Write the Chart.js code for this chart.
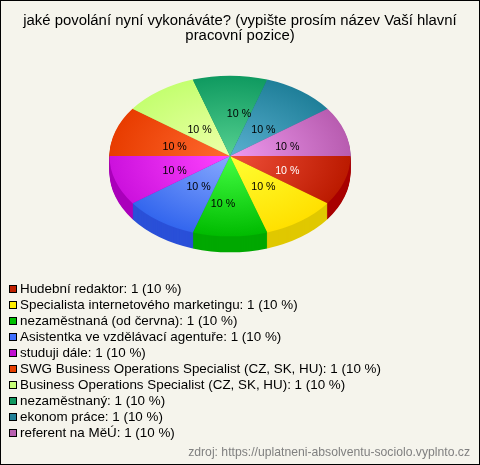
<!DOCTYPE html>
<html>
<head>
<meta charset="utf-8">
<title>povolání</title>
<script src="https://cdn.jsdelivr.net/npm/chart.js@4"></script>
<style>
  html, body { margin: 0; padding: 0; background: #f5f4ec; }
  canvas { display: block; }
</style>
</head>
<body>
<canvas id="pie" width="480" height="465"></canvas>
<script>
const titleLines = ['jaké povolání nyní vykonáváte? (vypište prosím název Vaší hlavní', 'pracovní pozice)'];
const sourceText = 'zdroj: https://uplatneni-absolventu-sociolo.vyplnto.cz';
const categories = [
  'Hudební redaktor', 'Specialista internetového marketingu', 'nezaměstnaná (od června)',
  'Asistentka ve vzdělávací agentuře', 'studuji dále', 'SWG Business Operations Specialist (CZ, SK, HU)',
  'Business Operations Specialist (CZ, SK, HU)', 'nezaměstnaný', 'ekonom práce', 'referent na MěÚ'
];
const counts = [1, 1, 1, 1, 1, 1, 1, 1, 1, 1];
const percents = [10, 10, 10, 10, 10, 10, 10, 10, 10, 10];

const innerColors = ['#f0503a', '#ffff33', '#44ff44', '#88aaff', '#ff44ff', '#ff6a30', '#eeffaa', '#55d090', '#5ab0d0', '#ee99ee'];
const outerColors = ['#bb1a00', '#ffe000', '#00bb00', '#3366ee', '#cc11dd', '#e83c00', '#c4ff70', '#0f9a60', '#1f7f99', '#b85cb0'];
const sideColors = ['#a80000', '#e0c800', '#00a800', '#2a50d8', '#aa00bb', '#c03000', '#a0d060', '#0a8050', '#186880', '#985098'];
const boxColors = ['#c02000', '#ffee00', '#00c000', '#4070ff', '#c010d0', '#e84000', '#c8ff78', '#109860', '#208098', '#b860b0'];
// small hand nudges of the "10 %" texts, the original does not sit them on the slice centres
const labelShifts = [[0, 1], [-2, -3], [-7, 6], [4, -3], [2, 1], [2, 1], [5, 5], [9, -4], [-2, 5], [0, 1]];

const FONT = '"Liberation Sans", Arial, sans-serif';
// the pie is laid out as a circle, then squashed and moved here
const pieX = 230, pieY = 156, squash = 80 / 120, depth = 16;

function placePie(ctx, chart, dy) {
  const a = chart.chartArea;
  const cx = (a.left + a.right) / 2, cy = (a.top + a.bottom) / 2;
  ctx.translate(pieX, pieY + dy);
  ctx.scale(1, squash);
  ctx.translate(-cx, -cy);
}

const pie3d = {
  id: 'pie3d',
  beforeDraw(chart) {
    const ctx = chart.ctx;
    ctx.save();
    ctx.fillStyle = '#f5f4ec';
    ctx.fillRect(0, 0, chart.width, chart.height);
    ctx.restore();
  },
  beforeDatasetsDraw(chart) {
    const ctx = chart.ctx;
    const arcs = chart.getDatasetMeta(0).data;
    // side wall: the same arcs stacked downwards in the darker colour
    for (let dy = depth; dy >= 1; dy--) {
      ctx.save();
      placePie(ctx, chart, dy);
      arcs.forEach((arc, i) => {
        const keep = arc.options;
        arc.options = Object.assign({}, keep, { backgroundColor: sideColors[i] });
        arc.draw(ctx);
        arc.options = keep;
      });
      ctx.restore();
    }
    ctx.save();
    placePie(ctx, chart, 0);
  },
  afterDatasetsDraw(chart) {
    const ctx = chart.ctx;
    ctx.restore();
    const a = chart.chartArea;
    const cx = (a.left + a.right) / 2, cy = (a.top + a.bottom) / 2;
    ctx.save();
    ctx.font = '10.67px ' + FONT;
    ctx.textAlign = 'center';
    ctx.textBaseline = 'middle';
    chart.getDatasetMeta(0).data.forEach((arc, i) => {
      const p = arc.getCenterPoint();
      ctx.fillStyle = i === 0 ? '#ffffff' : '#000000';
      ctx.fillText(percents[i] + ' %', pieX + p.x - cx + labelShifts[i][0], pieY + 2 + (p.y - cy) * squash + labelShifts[i][1]);
    });
    ctx.restore();
  },
  afterDraw(chart) {
    const ctx = chart.ctx;
    ctx.save();
    ctx.font = '13.4px ' + FONT;
    ctx.textBaseline = 'middle';
    categories.forEach((name, i) => {
      const y = 289 + i * 16;
      ctx.fillStyle = boxColors[i];
      ctx.fillRect(9.5, y - 3.5, 7, 7);
      ctx.strokeStyle = '#000000';
      ctx.lineWidth = 1;
      ctx.strokeRect(9.5, y - 3.5, 7, 7);
      ctx.fillStyle = '#000000';
      ctx.fillText(name + ': ' + counts[i] + ' (' + percents[i] + ' %)', 20, y);
    });
    ctx.font = '12.2px ' + FONT;
    ctx.fillStyle = '#808080';
    ctx.textAlign = 'right';
    ctx.fillText(sourceText, 470, 453);
    ctx.strokeStyle = '#000000';
    ctx.strokeRect(0.5, 0.5, chart.width - 1, chart.height - 1);
    ctx.restore();
  }
};

document.addEventListener('DOMContentLoaded', () => {
  new Chart(document.getElementById('pie').getContext('2d'), {
    type: 'pie',
    plugins: [pie3d],
    data: {
      labels: categories,
      datasets: [{
        data: counts,
        clip: false,
        borderWidth: 0,
        backgroundColor: c => {
          const a = c.chart.chartArea;
          if (!a) return outerColors[c.dataIndex];
          const cx = (a.left + a.right) / 2, cy = (a.top + a.bottom) / 2;
          const r = Math.min(a.right - a.left, a.bottom - a.top) / 2;
          const g = c.chart.ctx.createRadialGradient(cx, cy, 0, cx, cy, r);
          g.addColorStop(0, innerColors[c.dataIndex]);
          g.addColorStop(1, outerColors[c.dataIndex]);
          return g;
        }
      }]
    },
    options: {
      responsive: false,
      animation: false,
      events: [],
      rotation: 90,
      layout: { padding: { bottom: 181 } },
      plugins: {
        legend: { display: false },
        tooltip: { enabled: false },
        title: {
          display: true,
          text: titleLines,
          color: '#000000',
          padding: { top: 13, bottom: 0 },
          font: { family: FONT, size: 14.9, weight: 'normal', lineHeight: '15px' }
        }
      }
    }
  });
});
</script>
</body>
</html>
